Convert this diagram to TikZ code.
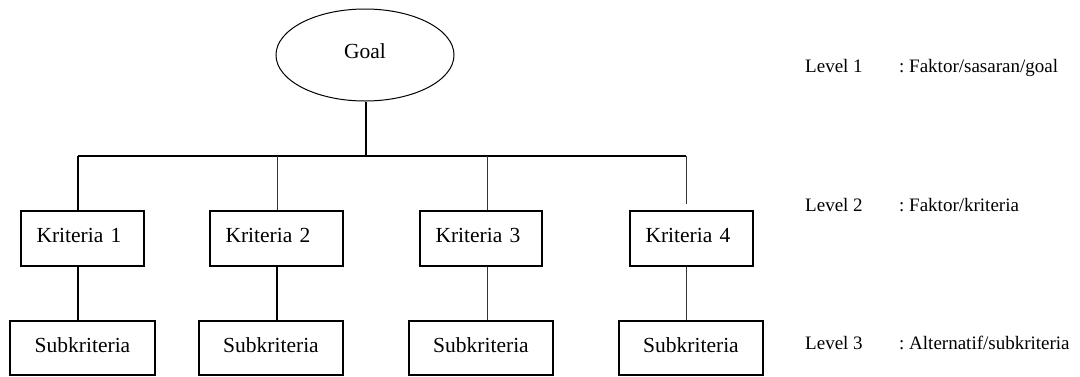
\documentclass[tikz,border=0pt]{standalone}
\usepackage{fontspec}
\setmainfont{Liberation Serif}
\usetikzlibrary{shapes.geometric}
\begin{document}
\frenchspacing
\begin{tikzpicture}[x=1pt,y=-1pt,
  bigfont/.style={font=\fontsize{21.5}{24}\selectfont},
  smallfont/.style={font=\fontsize{19}{22}\selectfont},
  goalnode/.style={draw, line width=1pt, ellipse, minimum width=178pt, minimum height=92pt, inner sep=0pt, bigfont, text height=10.5pt, text depth=3pt},
  kbox/.style={draw, line width=1.3pt, rectangle, minimum height=55pt, inner xsep=15.5pt, inner ysep=0pt, align=left, bigfont, text height=10.5pt, text depth=3pt},
  sbox/.style={draw, line width=1.3pt, rectangle, minimum height=54pt, inner sep=0pt, bigfont, text height=11pt, text depth=3pt},
  thick line/.style={line width=1.4pt},
  thin line/.style={line width=0.8pt, black!80},
  lvl/.style={anchor=base west, inner sep=0pt, smallfont}
]
\useasboundingbox (0,0) rectangle (1080,376);

\node[goalnode] (goal) at (365,55) {Goal};

\node[kbox, text width=92pt] (k1) at (82.5,238.5) {Kriteria 1};
\node[kbox, text width=102pt] (k2) at (276.5,238.5) {Kriteria 2};
\node[kbox, text width=91pt] (k3) at (481,238.5) {Kriteria 3};
\node[kbox, text width=92pt] (k4) at (691.5,238.5) {Kriteria 4};

\node[sbox, minimum width=145pt] (s1) at (82.5,348) {Subkriteria};
\node[sbox, minimum width=144pt] (s2) at (271,348) {Subkriteria};
\node[sbox, minimum width=144pt] (s3) at (481,348) {Subkriteria};
\node[sbox, minimum width=144pt] (s4) at (691,348) {Subkriteria};

\coordinate (g) at (366,156);
\coordinate (b1) at (78,156);
\coordinate (b2) at (277,156);
\coordinate (b3) at (487,156);
\coordinate (b4) at (686,156);
\coordinate (b4e) at (686,204);

\draw[thick line] (goal.south -| g) -- (g);
\draw[thick line] (b1) -- (b4);
\draw[thick line] (b1) -- (b1 |- k1.north);
\draw[thin line] (b2) -- (b2 |- k2.north);
\draw[thin line] (b3) -- (b3 |- k3.north);
\draw[thin line] (b4) -- (b4e);

\draw[thick line] (b1 |- k1.south) -- (b1 |- s1.north);
\draw[thick line] (b2 |- k2.south) -- (b2 |- s2.north);
\draw[thin line] (b3 |- k3.south) -- (b3 |- s3.north);
\draw[thin line] (b4 |- k4.south) -- (b4 |- s4.north);

\node[lvl] (l1) at (805,72.5) {Level 1};
\node[lvl] (d1) at (899,72.5) {: Faktor/sasaran/goal};
\node[lvl] (l2) at (805,211) {Level 2};
\node[lvl] (d2) at (899,211) {: Faktor/kriteria};
\node[lvl] (l3) at (805,349) {Level 3};
\node[lvl] (d3) at (899,349) {: Alternatif/subkriteria};
\end{tikzpicture}
\end{document}
